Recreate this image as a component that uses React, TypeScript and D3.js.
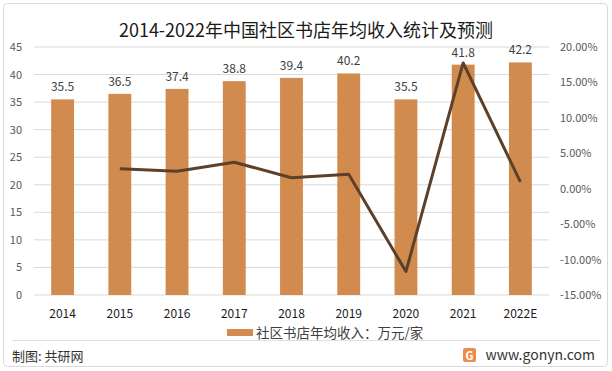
import React from "react";
import * as d3 from "d3";

const years = ["2014", "2015", "2016", "2017", "2018", "2019", "2020", "2021", "2022E"];
const income = [35.5, 36.5, 37.4, 38.8, 39.4, 40.2, 35.5, 41.8, 42.2];
// growth rate %, 2014 has no value
const growth: (number | null)[] = [null, 2.82, 2.47, 3.74, 1.55, 2.03, -11.69, 17.75, 0.96];
const leftTicks = [0, 5, 10, 15, 20, 25, 30, 35, 40, 45];
const rightTicks = [-15, -10, -5, 0, 5, 10, 15, 20];

const W = 612;
const H = 371;
const margin = { top: 47, bottom: 76, left: 34, right: 63 };
const font = "'Microsoft YaHei','Noto Sans CJK SC','DejaVu Sans',sans-serif";

export default function App() {
  const x = d3.scaleBand().domain(years).range([margin.left, W - margin.right]).paddingInner(0.6).paddingOuter(0.3);
  const y = d3.scaleLinear().domain([0, 45]).range([H - margin.bottom, margin.top]);
  const y2 = d3.scaleLinear().domain([-15, 20]).range([H - margin.bottom, margin.top]);
  const cx = (yr: string) => (x(yr) as number) + x.bandwidth() / 2;

  const line = d3
    .line<number | null>()
    .defined((d) => d !== null)
    .x((_, i) => cx(years[i]))
    .y((d) => y2(d as number));

  return (
    <svg width={W} height={H} style={{ position: "absolute", left: 0, top: 0 }} fontFamily={font}>
      <rect x={3.5} y={3.5} width={604} height={363} rx={4} fill="#fff" stroke="#d9d9d9" />
      <text x={W / 2} y={37} textAnchor="middle" fontSize={18} fill="#1a1a1a">
        2014-2022年中国社区书店年均收入统计及预测
      </text>

      {leftTicks.map((t) => (
        <g key={"g" + t}>
          <line x1={margin.left} x2={W - margin.right} y1={y(t)} y2={y(t)} stroke="#d9d9d9" />
          <text x={22} y={y(t) + 4} textAnchor="end" fontSize={11} fill="#595959">
            {t}
          </text>
        </g>
      ))}
      {rightTicks.map((t) => (
        <text key={"r" + t} x={560} y={y2(t) + 4} fontSize={11} fill="#595959">
          {t.toFixed(2) + "%"}
        </text>
      ))}

      {years.map((yr, i) => (
        <g key={yr}>
          <rect x={x(yr)} y={y(income[i])} width={x.bandwidth()} height={y(0) - y(income[i])} fill="#d28b4e" />
          <text x={cx(yr)} y={y(income[i]) - 8} textAnchor="middle" fontSize={12} fill="#404040">
            {income[i].toFixed(1)}
          </text>
          <text x={cx(yr)} y={318} textAnchor="middle" fontSize={12} fill="#1a1a1a">
            {yr}
          </text>
        </g>
      ))}

      <path d={line(growth) || ""} fill="none" stroke="#5c4029" strokeWidth={3} strokeLinejoin="round" />

      <rect x={227} y={329} width={26} height={7} fill="#d28b4e" />
      <text x={256} y={337.5} fontSize={13.5} fill="#404040">
        社区书店年均收入：万元/家
      </text>

      <line x1={12} x2={600} y1={340.5} y2={340.5} stroke="#e0e0e0" />
      <text x={12} y={361} fontSize={13} fill="#333">
        制图: 共研网
      </text>
      <rect x={463} y={348} width={13} height={14} rx={2} fill="#f08a4b" />
      <text x={469.5} y={359.5} textAnchor="middle" fontSize={11} fontWeight="bold" fill="#fff">G</text>
      <text x={595} y={360} textAnchor="end" fontSize={14} fill="#333">
        www.gonyn.com
      </text>
    </svg>
  );
}
